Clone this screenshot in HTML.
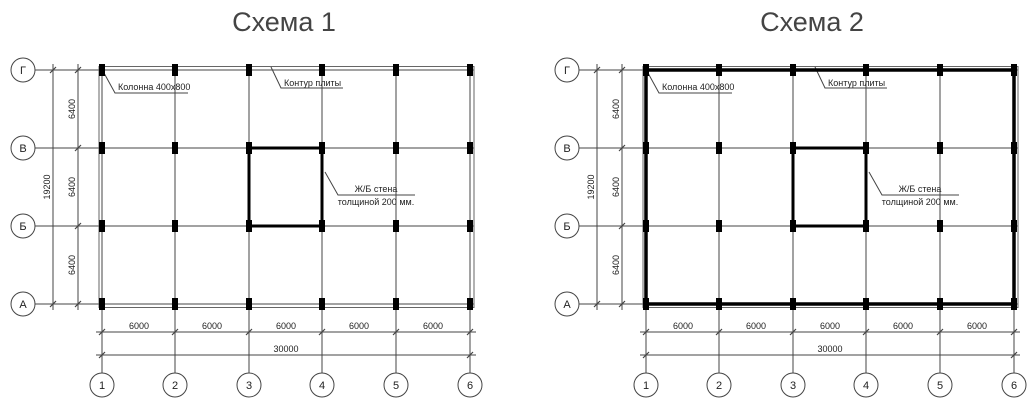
<!DOCTYPE html>
<html><head><meta charset="utf-8"><style>
html,body{margin:0;padding:0;background:#fff;width:1034px;height:406px;overflow:hidden}
svg text{font-family:"Liberation Sans","DejaVu Sans",sans-serif;fill:#222}
.t{font-size:9px}
.c{font-size:11px}
</style></head><body>
<svg width="1034" height="406" viewBox="0 0 1034 406" xmlns="http://www.w3.org/2000/svg">
<defs>
<g id="grid" stroke="#444" stroke-width="1" fill="none">
  <!-- horizontal axes -->
  <path d="M35 70H474M35 148H474M35 226H474M35 304H474"/>
  <!-- vertical axes -->
  <path d="M102 67V373M175 67V373M249 67V373M322 67V373M396 67V373M470 67V373"/>
  <!-- slab contour -->
  <rect x="99" y="66.5" width="375" height="241" stroke="#666"/>
  <!-- dims left -->
  <path d="M53 64V310M78 64V310"/>
  <path d="M50 73l6-6M50 307l6-6M75 73l6-6M75 151l6-6M75 229l6-6M75 307l6-6" stroke-width="1.2"/>
  <!-- dims bottom -->
  <path d="M96 332H476M96 355H476"/>
  <path d="M99 335l6-6M172 335l6-6M246 335l6-6M319 335l6-6M393 335l6-6M467 335l6-6M99 358l6-6M467 358l6-6" stroke-width="1.2"/>
  <!-- circles -->
  <circle cx="23" cy="70" r="12"/><circle cx="23" cy="148" r="12"/><circle cx="23" cy="226" r="12"/><circle cx="23" cy="304" r="12"/>
  <circle cx="102" cy="385" r="12"/><circle cx="175" cy="385" r="12"/><circle cx="249" cy="385" r="12"/><circle cx="322" cy="385" r="12"/><circle cx="396" cy="385" r="12"/><circle cx="470" cy="385" r="12"/>
  <!-- wall -->
  <rect x="249" y="148" width="73" height="78" stroke="#000" stroke-width="3"/>
  <!-- leaders -->
  <path d="M104 73L115 93H188M271 67L281 88H343M325 172L338 195H415"/>
</g>
<g id="cols" fill="#000">
  <rect x="99" y="64" width="6" height="12"/><rect x="172" y="64" width="6" height="12"/><rect x="246" y="64" width="6" height="12"/><rect x="319" y="64" width="6" height="12"/><rect x="393" y="64" width="6" height="12"/><rect x="467" y="64" width="6" height="12"/>
  <rect x="99" y="142" width="6" height="12"/><rect x="172" y="142" width="6" height="12"/><rect x="246" y="142" width="6" height="12"/><rect x="319" y="142" width="6" height="12"/><rect x="393" y="142" width="6" height="12"/><rect x="467" y="142" width="6" height="12"/>
  <rect x="99" y="220" width="6" height="12"/><rect x="172" y="220" width="6" height="12"/><rect x="246" y="220" width="6" height="12"/><rect x="319" y="220" width="6" height="12"/><rect x="393" y="220" width="6" height="12"/><rect x="467" y="220" width="6" height="12"/>
  <rect x="99" y="298" width="6" height="12"/><rect x="172" y="298" width="6" height="12"/><rect x="246" y="298" width="6" height="12"/><rect x="319" y="298" width="6" height="12"/><rect x="393" y="298" width="6" height="12"/><rect x="467" y="298" width="6" height="12"/>
</g>
</defs>

<!-- Scheme 1 -->
<text x="284" y="31" text-anchor="middle" style="font-size:27px;fill:#444">Схема 1</text>
<use href="#grid"/><use href="#cols"/>
<g class="t">
<text x="118" y="90">Колонна 400х800</text>
<text x="284" y="86">Контур плиты</text>
<text x="376" y="192" text-anchor="middle">Ж/Б стена</text>
<text x="376" y="205" text-anchor="middle">толщиной 200 мм.</text>
<text x="139" y="329" text-anchor="middle">6000</text><text x="212" y="329" text-anchor="middle">6000</text><text x="286" y="329" text-anchor="middle">6000</text><text x="359" y="329" text-anchor="middle">6000</text><text x="433" y="329" text-anchor="middle">6000</text>
<text x="286" y="352" text-anchor="middle">30000</text>
<text transform="translate(75 109) rotate(-90)" text-anchor="middle">6400</text>
<text transform="translate(75 187) rotate(-90)" text-anchor="middle">6400</text>
<text transform="translate(75 265) rotate(-90)" text-anchor="middle">6400</text>
<text transform="translate(50 187) rotate(-90)" text-anchor="middle">19200</text>
</g>
<g class="c" text-anchor="middle">
<text x="23" y="74">Г</text><text x="23" y="152">В</text><text x="23" y="230">Б</text><text x="23" y="308">А</text>
<text x="102" y="389">1</text><text x="175" y="389">2</text><text x="249" y="389">3</text><text x="322" y="389">4</text><text x="396" y="389">5</text><text x="470" y="389">6</text>
</g>

<!-- Scheme 2 -->
<text x="812" y="31" text-anchor="middle" style="font-size:27px;fill:#444">Схема 2</text>
<g transform="translate(544 0)">
<use href="#grid"/>
<rect x="102" y="70" width="368" height="234" fill="none" stroke="#000" stroke-width="3.5"/>
<use href="#cols"/>
<g class="t">
<text x="118" y="90">Колонна 400х800</text>
<text x="284" y="86">Контур плиты</text>
<text x="376" y="192" text-anchor="middle">Ж/Б стена</text>
<text x="376" y="205" text-anchor="middle">толщиной 200 мм.</text>
<text x="139" y="329" text-anchor="middle">6000</text><text x="212" y="329" text-anchor="middle">6000</text><text x="286" y="329" text-anchor="middle">6000</text><text x="359" y="329" text-anchor="middle">6000</text><text x="433" y="329" text-anchor="middle">6000</text>
<text x="286" y="352" text-anchor="middle">30000</text>
<text transform="translate(75 109) rotate(-90)" text-anchor="middle">6400</text>
<text transform="translate(75 187) rotate(-90)" text-anchor="middle">6400</text>
<text transform="translate(75 265) rotate(-90)" text-anchor="middle">6400</text>
<text transform="translate(50 187) rotate(-90)" text-anchor="middle">19200</text>
</g>
<g class="c" text-anchor="middle">
<text x="23" y="74">Г</text><text x="23" y="152">В</text><text x="23" y="230">Б</text><text x="23" y="308">А</text>
<text x="102" y="389">1</text><text x="175" y="389">2</text><text x="249" y="389">3</text><text x="322" y="389">4</text><text x="396" y="389">5</text><text x="470" y="389">6</text>
</g>
</g>
</svg>
</body></html>
